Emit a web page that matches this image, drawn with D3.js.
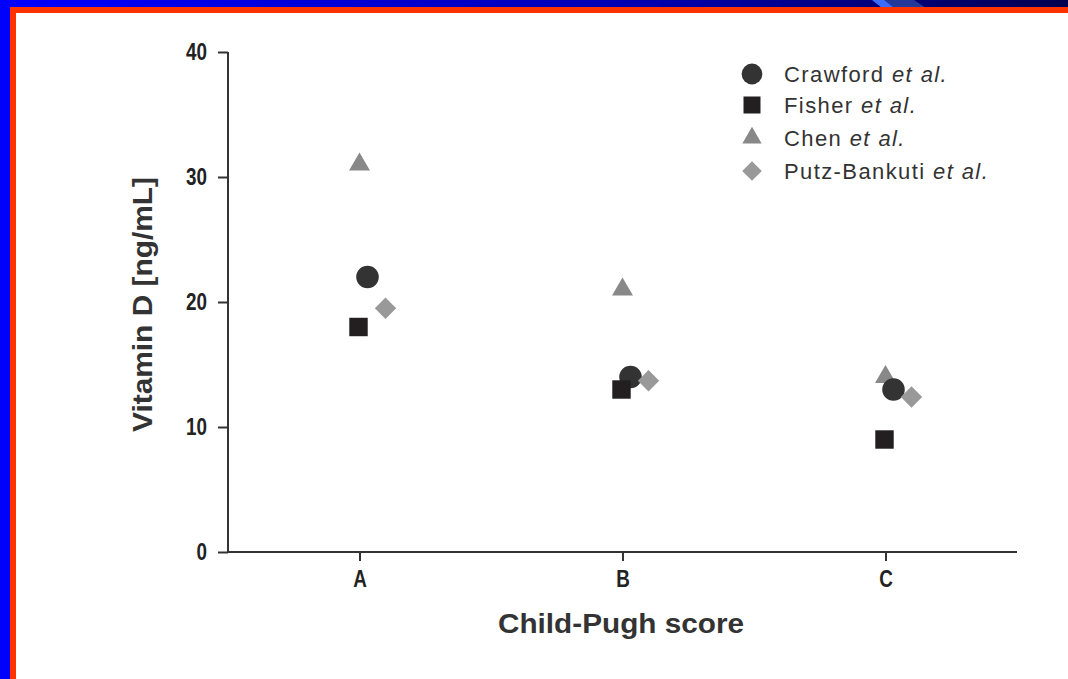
<!DOCTYPE html>
<html><head><meta charset="utf-8">
<script src="https://cdn.jsdelivr.net/npm/d3@7"></script>
<style>html,body{margin:0;padding:0;background:#fff;overflow:hidden}</style>
</head><body>
<script>
const categories = ["A", "B", "C"];
const seriesNames = ["Crawford", "Fisher", "Chen", "Putz-Bankuti"];
const crawford = [22, 14, 13];
const fisher = [18, 13, 9];
const chen = [31, 21, 14];
const putz = [19.5, 13.7, 12.4];
const yTicks = [0, 10, 20, 30, 40];

const W = 1068, H = 679;
const svg = d3.select("body").append("svg").attr("width", W).attr("height", H);

// frame
const defs = svg.append("defs");
const g1 = defs.append("linearGradient").attr("id", "topg").attr("x1", 0).attr("x2", 1).attr("y1", 0).attr("y2", 0);
g1.append("stop").attr("offset", "0").attr("stop-color", "#0000ff");
g1.append("stop").attr("offset", "0.6").attr("stop-color", "#0000b0");
g1.append("stop").attr("offset", "1").attr("stop-color", "#000050");
svg.append("rect").attr("x", 0).attr("y", 0).attr("width", W).attr("height", H).attr("fill", "#0000ff");
svg.append("rect").attr("x", 0).attr("y", 0).attr("width", W).attr("height", 8).attr("fill", "url(#topg)");
svg.append("polygon").attr("points", "872,0 886,0 896,8 882,8").attr("fill", "#3a6cff");
svg.append("polygon").attr("points", "884,0 914,0 926,8 894,8").attr("fill", "#22399a");
svg.append("rect").attr("x", 10).attr("y", 7).attr("width", W - 10).attr("height", H - 7).attr("fill", "#ff3300");
svg.append("rect").attr("x", 16).attr("y", 13).attr("width", W - 16).attr("height", H - 13).attr("fill", "#ffffff");

const x = d3.scalePoint().domain(categories).range([228, 1017]).padding(0.5);
const y = d3.scaleLinear().domain([0, 40]).range([552, 52]);

const axisColor = "#333";
const font = "'Liberation Sans',Arial,sans-serif";

const yAxis = svg.append("g").attr("transform", "translate(228,0)")
  .call(d3.axisLeft(y).tickValues(yTicks).tickSize(10).tickPadding(8).tickSizeOuter(0));
const xAxis = svg.append("g").attr("transform", "translate(0,552)")
  .call(d3.axisBottom(x).tickSize(9).tickPadding(9).tickSizeOuter(0));
[yAxis, xAxis].forEach(a => {
  a.select(".domain").attr("stroke", axisColor).attr("stroke-width", 2);
  a.selectAll(".tick line").attr("stroke", axisColor).attr("stroke-width", 2);
});
yAxis.selectAll(".tick text").attr("fill", "#222").attr("font-family", font)
  .attr("font-weight", "bold").attr("font-size", 23)
  .attr("x", -21 / 0.82).attr("transform", "scale(0.82,1)");
xAxis.selectAll(".tick text").attr("fill", "#222").attr("font-family", font)
  .attr("font-weight", "bold").attr("font-size", 23).attr("y", 19)
  .attr("transform", "scale(0.82,1)")
  .attr("x", d => 0);
xAxis.selectAll(".tick").each(function () {
  d3.select(this).select("text").attr("transform", "scale(0.82,1)");
});
xAxis.select(".domain").attr("d", "M228,0H1017");
yAxis.select(".domain").attr("d", "M0,52V553");

svg.append("text").attr("x", 498).attr("y", 633)
  .attr("font-family", font).attr("font-weight", "bold").attr("font-size", 27).attr("fill", "#333")
  .attr("textLength", 246).attr("lengthAdjust", "spacingAndGlyphs")
  .text("Child-Pugh score");
svg.append("text").attr("transform", "translate(152,432) rotate(-90)")
  .attr("font-family", font).attr("font-weight", "bold").attr("font-size", 27).attr("fill", "#333")
  .attr("textLength", 255).attr("lengthAdjust", "spacingAndGlyphs")
  .text("Vitamin D [ng/mL]");

const series = [
  {name: seriesNames[0], values: crawford, sym: d3.symbolCircle, size: 400, color: "#333333", dx: 8},
  {name: seriesNames[1], values: fisher, sym: d3.symbolSquare, size: 340, color: "#231f20", dx: -1},
  {name: seriesNames[2], values: chen, sym: d3.symbolTriangle, size: 190, color: "#888888", dx: 0},
  {name: seriesNames[3], values: putz, sym: d3.symbolDiamond2, size: 290, color: "#999999", dx: 26}
];
const drawOrder = [2, 0, 3, 1];
drawOrder.forEach(i => {
  const s = series[i];
  svg.append("g").selectAll("path").data(s.values).join("path")
    .attr("d", d3.symbol().type(s.sym).size(s.size))
    .attr("transform", (d, j) => `translate(${x(categories[j]) + s.dx},${y(d)})`)
    .attr("fill", s.color);
});

const leg = svg.append("g");
const legY = [74, 105, 138, 171];
series.forEach((s, i) => {
  leg.append("path").attr("d", d3.symbol().type(s.sym).size(s.size * 0.85)())
    .attr("transform", `translate(752,${legY[i]})`)
    .attr("fill", s.color);
  const t = leg.append("text").attr("x", 784).attr("y", legY[i] + 8)
    .attr("font-family", font).attr("font-size", 22).attr("letter-spacing", 1.4).attr("fill", "#333");
  t.append("tspan").text(s.name + " ");
  t.append("tspan").attr("font-style", "italic").text("et al.");
});
</script>
</body></html>
